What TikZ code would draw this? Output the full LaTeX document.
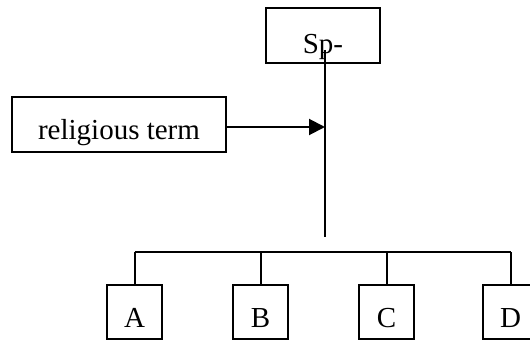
\documentclass[tikz,border=0pt]{standalone}
\usepackage{fontspec}
\setmainfont{Liberation Serif}
\usepackage{tikz}
\usetikzlibrary{arrows.meta,positioning,calc}

\begin{document}
\begin{tikzpicture}[x=0.5pt,y=-0.5pt,line width=1pt,
  font=\fontsize{14.5}{16}\selectfont,
  termbox/.style={draw,inner sep=0pt,align=center},
  leafbox/.style={termbox,minimum width=27.5pt,text height=21pt,text depth=6pt}]
  \useasboundingbox (0,0) rectangle (530,342);
  \node[termbox,minimum width=57pt,text height=23pt,text depth=4.5pt] (sp) at (323,35.5) {Sp-};
  \node[termbox,minimum width=107pt,text height=21.5pt,text depth=6pt] (rel) at (119,124.5) {religious term};
  % the four branches
  \foreach \n/\x in {A/134.5,B/260.5,C/386.5,D/510.5}
    \node[leafbox] (\n) at (\x,312) {\n};
  \coordinate (trunktop) at (325,50);
  \coordinate (trunkend) at (325,237);
  \coordinate (tip) at (325,127);
  \coordinate (barl) at (134.5,252);
  \coordinate (barr) at (510.5,252);
  \draw (trunktop) -- (trunkend);
  \draw[-{Triangle[length=8pt,width=8pt]}] (rel.east |- tip) -- (tip);
  \draw (barl) -- (barr);
  \foreach \n in {A,B,C,D}
    \draw (\n.north |- barl) -- (\n.north);
\end{tikzpicture}
\end{document}
